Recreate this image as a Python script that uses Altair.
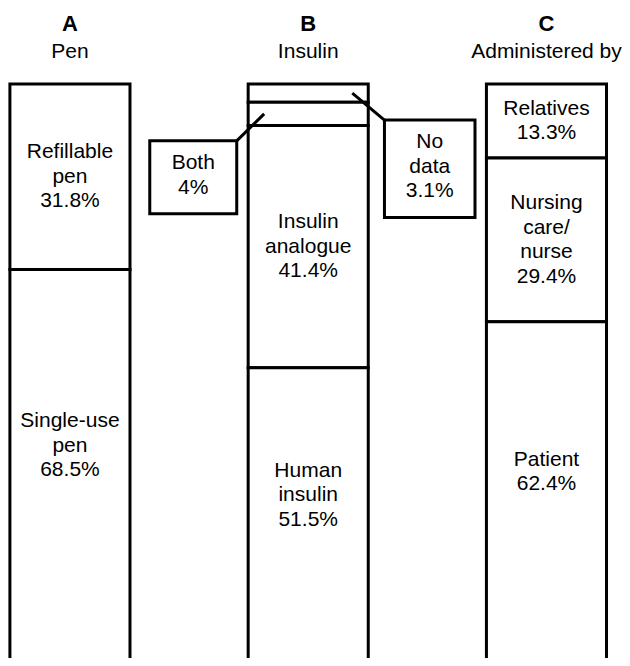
import altair as alt
import pandas as pd

# ---- data ----
groups = ["A", "B", "C"]
headers = ["Pen", "Insulin", "Administered by"]

pen_names = ["Refillable\npen", "Single-use\npen"]
pen_values = [31.8, 68.5]

insulin_names = ["No\ndata", "Both", "Insulin\nanalogue", "Human\ninsulin"]
insulin_values = [3.1, 4.0, 41.4, 51.5]

admin_names = ["Relatives", "Nursing\ncare/\nnurse", "Patient"]
admin_values = [13.3, 29.4, 62.4]

# segments whose label sits in a callout box beside bar B
callout_names = ["Both", "No\ndata"]
callout_sides = [-1, 1]

# ---- style constants ----
HALF = 0.252          # half bar width (x units)
FONT = "Liberation Sans"
LABEL_SIZE = 21
LINE_H = 24.5
PX_PER_UNIT = 585.0   # pixels per full bar height
VIS_END = 0.92        # label centering limit for bottom segments
SW = 3
BOX_GAP = {-1: (0.30, 0.665), 1: (0.32, 0.70)}   # inner / outer box edge offsets

series = [(pen_names, pen_values), (insulin_names, insulin_values), (admin_names, admin_values)]
rows = []
for gi, (names, values) in enumerate(series):
    total = sum(values)
    cum = 0.0
    for n, v in zip(names, values):
        start = cum / total
        end = (cum + v) / total
        cum += v
        label = f"{n}\n{v:g}%"
        nlines = label.count("\n") + 1
        mid = (start + min(end, VIS_END)) / 2
        rows.append(dict(group=groups[gi], idx=gi, name=n, value=v,
                         start=start, end=end,
                         x0=gi - HALF, x1=gi + HALF,
                         label=label,
                         ytext=mid - (nlines - 1) * LINE_H / 2 / PX_PER_UNIT))
seg = pd.DataFrame(rows)

inbar = seg[~seg["name"].isin(callout_names)]

# callouts
crow = []
for n, side in zip(callout_names, callout_sides):
    r = seg[seg["name"] == n].iloc[0]
    smid = (r["start"] + r["end"]) / 2
    nlines = r["label"].count("\n") + 1
    top = smid + 0.046
    bottom = top + (nlines * LINE_H + 24) / PX_PER_UNIT
    gin, gout = BOX_GAP[side]
    inner = r["idx"] + side * gin
    outer = r["idx"] + side * gout
    bcen = (top + bottom) / 2
    crow.append(dict(label=r["label"],
                     bx0=min(inner, outer), bx1=max(inner, outer),
                     by0=top, by1=bottom,
                     bxc=(inner + outer) / 2,
                     ytext=bcen - (nlines - 1) * LINE_H / 2 / PX_PER_UNIT - 2 / PX_PER_UNIT,
                     lx0=inner, ly0=top,
                     lx1=r["idx"] + side * 0.185, ly1=smid))
call = pd.DataFrame(crow)

heads = pd.DataFrame(dict(idx=list(range(3)), group=groups, header=headers, top=[0.0] * 3))

xs = alt.Scale(domain=[-0.260, 2.317], nice=False, zero=False)
ys = alt.Scale(domain=[-0.13, 0.981], nice=False, zero=False, reverse=True)

bars = alt.Chart(seg).mark_rect(fill="white", stroke="black", strokeWidth=SW, clip=True).encode(
    x=alt.X("x0:Q", scale=xs, axis=None), x2="x1:Q",
    y=alt.Y("start:Q", scale=ys, axis=None), y2="end:Q")

labels = alt.Chart(inbar).mark_text(font=FONT, fontSize=LABEL_SIZE, lineHeight=LINE_H,
                                    lineBreak="\n", baseline="middle", align="center",
                                    color="black").encode(
    x=alt.X("idx:Q", scale=xs, axis=None),
    y=alt.Y("ytext:Q", scale=ys, axis=None),
    text="label:N")

leaders = alt.Chart(call).mark_rule(stroke="black", strokeWidth=SW).encode(
    x=alt.X("lx0:Q", scale=xs, axis=None), x2="lx1:Q",
    y=alt.Y("ly0:Q", scale=ys, axis=None), y2="ly1:Q")

boxes = alt.Chart(call).mark_rect(fill="white", stroke="black", strokeWidth=SW).encode(
    x=alt.X("bx0:Q", scale=xs, axis=None), x2="bx1:Q",
    y=alt.Y("by0:Q", scale=ys, axis=None), y2="by1:Q")

box_text = alt.Chart(call).mark_text(font=FONT, fontSize=LABEL_SIZE, lineHeight=LINE_H,
                                     lineBreak="\n", baseline="middle", align="center",
                                     color="black").encode(
    x=alt.X("bxc:Q", scale=xs, axis=None),
    y=alt.Y("ytext:Q", scale=ys, axis=None),
    text="label:N")

letters = alt.Chart(heads).mark_text(font=FONT, fontSize=22, fontWeight="bold",
                                     baseline="alphabetic", align="center", dy=-53,
                                     color="black").encode(
    x=alt.X("idx:Q", scale=xs, axis=None),
    y=alt.Y("top:Q", scale=ys, axis=None),
    text="group:N")

subtitles = alt.Chart(heads).mark_text(font=FONT, fontSize=21,
                                       baseline="alphabetic", align="center", dy=-26,
                                       color="black").encode(
    x=alt.X("idx:Q", scale=xs, axis=None),
    y=alt.Y("top:Q", scale=ys, axis=None),
    text="header:N")

chart = alt.layer(bars, labels, leaders, boxes, box_text, letters, subtitles).properties(
    width=614, height=650, padding=0,
    autosize=alt.AutoSizeParams(type="none"),
    background="white",
).configure_view(stroke=None)

chart.save("out.html", embed_options={"renderer": "svg", "actions": False})
